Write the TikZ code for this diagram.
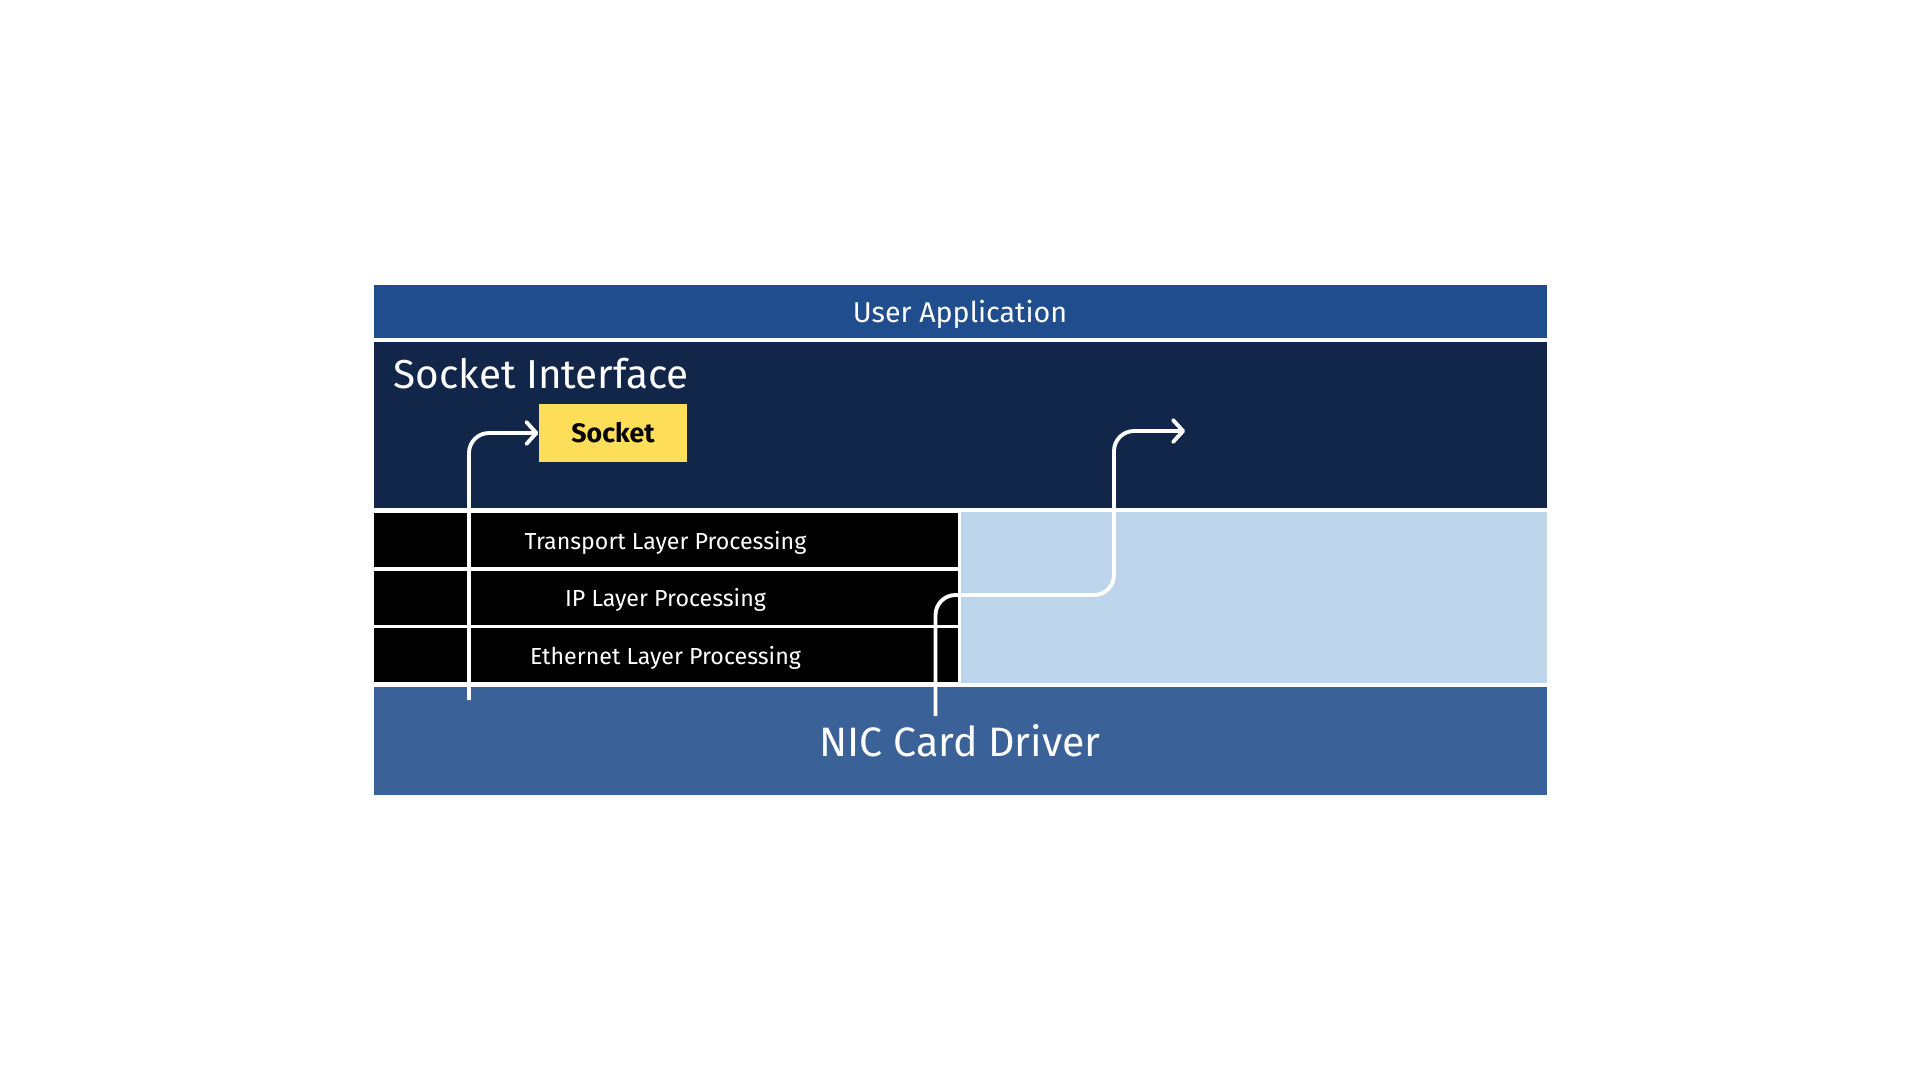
\documentclass[tikz,border=0pt]{standalone}
\usepackage{fontspec}
\setmainfont{Fira Sans}
\usetikzlibrary{arrows.meta}
\definecolor{stkapp}{HTML}{204D8E}
\definecolor{stksock}{HTML}{12264A}
\definecolor{stkidle}{HTML}{BDD5EA}
\definecolor{stknic}{HTML}{3B6298}
\definecolor{stkyel}{HTML}{FFDE59}

\begin{document}
\begin{tikzpicture}[x=0.1mm, y=-0.1mm,
  band/.style={inner sep=0pt, minimum width=117.3mm, text=white},
  lyr/.style={fill=black, inner sep=0pt, minimum width=58.4mm, minimum height=5.4mm, text depth=0pt, text=white, font=\fontsize{6.6}{7}\selectfont},
  flow/.style={draw=white, line width=1.1pt, rounded corners=2mm, -{Straight Barb[length=1mm,width=2.2mm,round]}}]
  \useasboundingbox (0,0) rectangle (1920,1080);
  % ---- top bands ----
  \node[band, fill=stkapp, minimum height=5.3mm, text depth=0pt, font=\fontsize{8.15}{9}\selectfont] (ua) at (960,311.5) {User Application};
  \node[band, fill=stksock, minimum height=16.6mm] (si) at (960,425) {};
  \node[anchor=west, text=white, inner sep=0pt, font=\fontsize{11.5}{12}\selectfont] (sit) at (393,373.5) {Socket Interface};
  \node[fill=stkyel, inner sep=0pt, minimum width=14.8mm, minimum height=5.8mm, font=\fontsize{7.6}{8}\selectfont\bfseries] (sock) at (613,433) {Socket};
  % ---- protocol layers ----
  \foreach \n/\y/\t in {tl/540/Transport Layer Processing, il/597.5/IP Layer Processing, el/655/Ethernet Layer Processing}
    \node[lyr] (\n) at (665.5,\y) {\t};
  \node[fill=stkidle, inner sep=0pt, minimum width=58.6mm, minimum height=17.1mm] (lb) at (1253.8,597.5) {};
  % ---- driver ----
  \node[band, fill=stknic, minimum height=10.8mm, font=\fontsize{11.7}{13}\selectfont] (nic) at (960,741) {NIC Card Driver};
  % ---- paths ----
  \coordinate (k1) at (469,700);
  \coordinate (k2) at (935.5,716);
  \coordinate (b2) at (1114,595);
  \coordinate (e2) at (1185,431);
  \draw[flow] (k1) |- (sock.west);
  \draw[flow] (k2) |- (b2) |- (e2);
\end{tikzpicture}
\end{document}
